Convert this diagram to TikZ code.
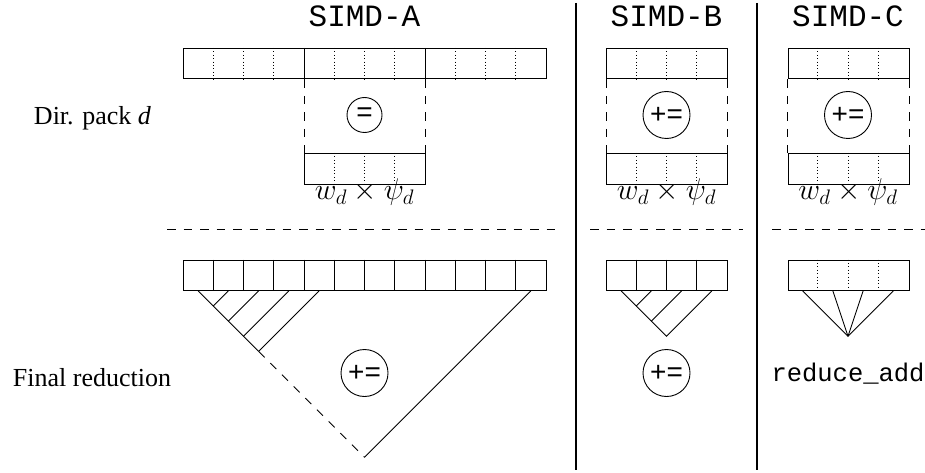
\RequirePackage{fix-cm}
\documentclass[tikz,border=0pt]{standalone}
\usepackage{fontspec}
\setmainfont{Liberation Serif}
\setsansfont{Liberation Sans}
\setmonofont{Liberation Mono}
\usetikzlibrary{calc}
\begin{document}
\begin{tikzpicture}[x=1pt, y=-1pt, line width=0.9pt,
  cellrow/.style={draw, inner sep=0pt, minimum height=30.5pt, anchor=north west},
  lanedot/.style={line width=0.7pt, dash pattern=on 0.8pt off 2.6pt},
  guide/.style={dash pattern=on 8.5pt off 8pt},
  wall/.style={line width=2pt},
  opcirc/.style={circle, draw, inner sep=0pt, font=\sffamily\fontsize{28}{32}\selectfont},
  title/.style={anchor=base, inner sep=0pt, font=\ttfamily\fontsize{31}{36}\selectfont},
  rowlabel/.style={anchor=base, inner sep=0pt, font=\fontsize{26}{30}\selectfont},
  prodlabel/.style={anchor=base, inner sep=0pt, font=\fontsize{30}{34}\selectfont}]
\useasboundingbox (0,0) rectangle (925,473);

% ---- titles and row labels
\node[title] (tA) at (364.5,27) {SIMD-A};
\node[title] (tB) at (666.5,27) {SIMD-B};
\node[title] (tC) at (848,27) {SIMD-C};
\node[rowlabel] (lDir) at (92.5,125) {Dir. pack \textit{d}};
\node[rowlabel] (lFin) at (92,386.7) {Final reduction};

% ---- column separators
\coordinate (s1t) at (575.5,3);  \coordinate (s1b) at (575.5,470);
\coordinate (s2t) at (757,3);    \coordinate (s2b) at (757,470);
\draw[wall] (s1t) -- (s1b);
\draw[wall] (s2t) -- (s2b);

% ---- horizontal dashed split
\coordinate (hA0) at (167,229); \coordinate (hA1) at (558,229);
\coordinate (hB0) at (590,229); \coordinate (hB1) at (743,229);
\coordinate (hC0) at (772,229); \coordinate (hC1) at (925,229);
\draw[guide] (hA0) -- (hA1);
\draw[guide] (hB0) -- (hB1);
\draw[guide] (hC0) -- (hC1);

% ================= SIMD-A =================
\node[cellrow, minimum width=363pt] (Atop) at (183,48) {};
\foreach \k in {1,2,3,5,6,7,9,10,11}
  \draw[lanedot] ($(Atop.north west)+(\k*30.25,0)$) -- ($(Atop.south west)+(\k*30.25,0)$);
\foreach \k in {4,8}
  \draw ($(Atop.north west)+(\k*30.25,0)$) -- ($(Atop.south west)+(\k*30.25,0)$);
\node[cellrow, minimum width=121pt] (Abox) at (304,153) {};
\foreach \k in {1,2,3}
  \draw[lanedot] ($(Abox.north west)+(\k*30.25,0)$) -- ($(Abox.south west)+(\k*30.25,0)$);
\draw[guide] (Abox.north west |- Atop.south) -- (Abox.north west);
\draw[guide] (Abox.north east |- Atop.south) -- (Abox.north east);
\node[opcirc, minimum size=35pt] (Aop) at (364.5,115) {=};
\node[prodlabel] (Alab) at (364.5,199.5) {$w_d\times\psi_d$};

\node[cellrow, minimum width=363pt] (Ared) at (183,259.5) {};
\foreach \k in {1,...,11}
  \draw ($(Ared.north west)+(\k*30.25,0)$) -- ($(Ared.south west)+(\k*30.25,0)$);
\foreach \k in {1,...,12}
  \coordinate (A\k) at ($(Ared.south west)+(\k*30.25-15.125,0)$);
\foreach \k in {2,...,5}
  \coordinate (Ah\k) at ($(A\k)+({-(\k-1)*15.125},{(\k-1)*15.125})$);
\coordinate (Aapex) at ($(A1)!0.5!(A12)+(0,166.375)$);
\draw (A1) -- (Ah5);
\draw[guide] (Ah5) -- (Aapex);
\draw (A12) -- (Aapex);
\foreach \k in {2,...,5}
  \draw (A\k) -- (Ah\k);
\node[opcirc, minimum size=47pt] (Aacc) at (364.5,373) {+=};

% ================= SIMD-B =================
\node[cellrow, minimum width=121pt] (Btop) at (606,48) {};
\node[cellrow, minimum width=121pt] (Bbox) at (606,153) {};
\foreach \k in {1,2,3} {
  \draw[lanedot] ($(Btop.north west)+(\k*30.25,0)$) -- ($(Btop.south west)+(\k*30.25,0)$);
  \draw[lanedot] ($(Bbox.north west)+(\k*30.25,0)$) -- ($(Bbox.south west)+(\k*30.25,0)$);
}
\draw[guide] (Btop.south west) -- (Bbox.north west);
\draw[guide] (Btop.south east) -- (Bbox.north east);
\node[opcirc, minimum size=47pt] (Bop) at (666.5,115) {+=};
\node[prodlabel] (Blab) at (666.5,199.5) {$w_d\times\psi_d$};

\node[cellrow, minimum width=121pt] (Bred) at (606,259.5) {};
\foreach \k in {1,2,3}
  \draw ($(Bred.north west)+(\k*30.25,0)$) -- ($(Bred.south west)+(\k*30.25,0)$);
\foreach \k in {1,...,4}
  \coordinate (B\k) at ($(Bred.south west)+(\k*30.25-15.125,0)$);
\foreach \k in {2,3}
  \coordinate (Bh\k) at ($(B\k)+({-(\k-1)*15.125},{(\k-1)*15.125})$);
\coordinate (Bapex) at ($(B1)!0.5!(B4)+(0,45.375)$);
\draw (B1) -- (Bapex) -- (B4);
\foreach \k in {2,3}
  \draw (B\k) -- (Bh\k);
\node[opcirc, minimum size=47pt] (Bacc) at (666.5,373) {+=};

% ================= SIMD-C =================
\node[cellrow, minimum width=121pt] (Ctop) at (787.5,48) {};
\node[cellrow, minimum width=121pt] (Cbox) at (787.5,153) {};
\node[cellrow, minimum width=121pt] (Cred) at (787.5,259.5) {};
\foreach \k in {1,2,3} {
  \draw[lanedot] ($(Ctop.north west)+(\k*30.25,0)$) -- ($(Ctop.south west)+(\k*30.25,0)$);
  \draw[lanedot] ($(Cbox.north west)+(\k*30.25,0)$) -- ($(Cbox.south west)+(\k*30.25,0)$);
  \draw[lanedot] ($(Cred.north west)+(\k*30.25,0)$) -- ($(Cred.south west)+(\k*30.25,0)$);
}
\draw[guide] (Ctop.south west) -- (Cbox.north west);
\draw[guide] (Ctop.south east) -- (Cbox.north east);
\node[opcirc, minimum size=47pt] (Cop) at (848,115) {+=};
\node[prodlabel] (Clab) at (848,199.5) {$w_d\times\psi_d$};

\foreach \k in {1,...,4}
  \coordinate (C\k) at ($(Cred.south west)+(\k*30.25-15.125,0)$);
\coordinate (Capex) at ($(C1)!0.5!(C4)+(0,45.375)$);
\foreach \k in {1,...,4}
  \draw (C\k) -- (Capex);
\node[anchor=base, inner sep=0pt, font=\ttfamily\fontsize{25.5}{30}\selectfont] (Credop) at (848,381) {reduce\_add};
\end{tikzpicture}
\end{document}
